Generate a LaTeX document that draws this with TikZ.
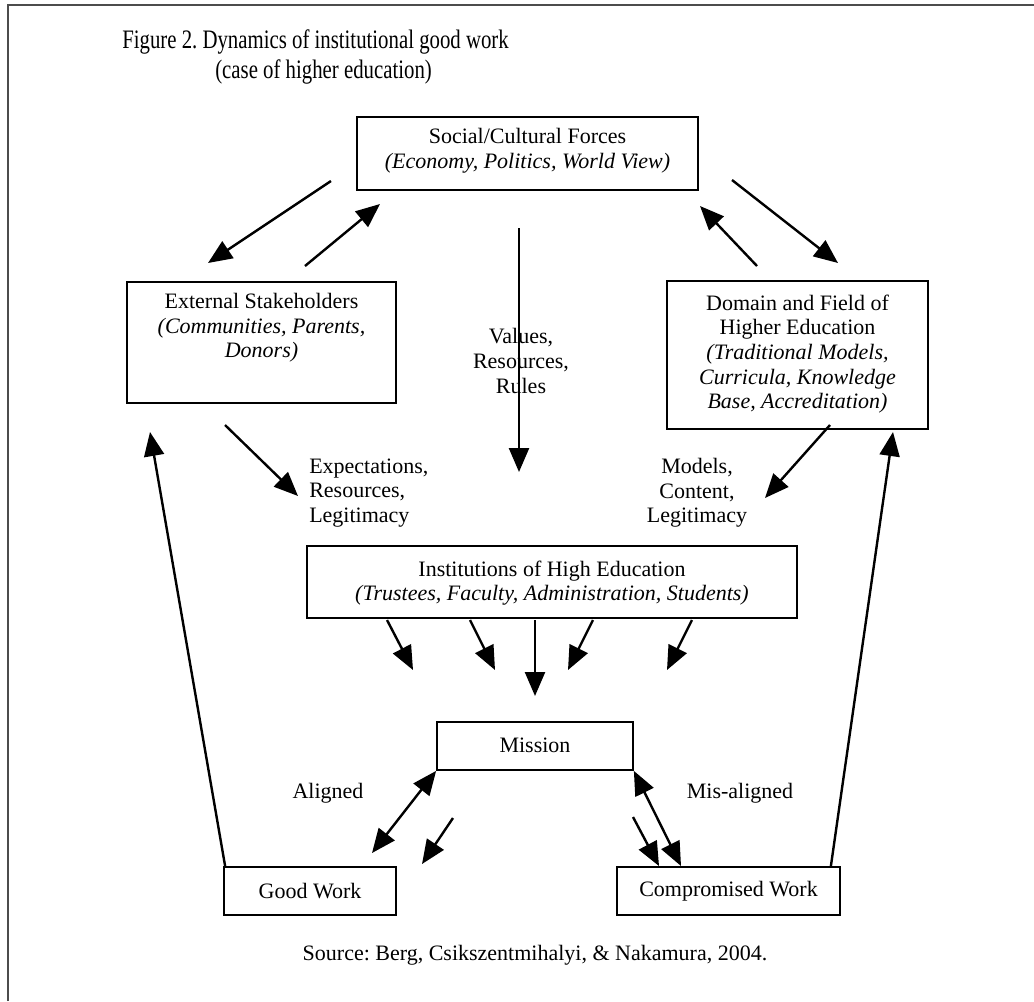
\documentclass[tikz,border=0pt]{standalone}
\usepackage{fontspec}
\setmainfont{Liberation Serif}
\newfontfamily\titlefont[FakeStretch=0.78]{Liberation Serif}
\usetikzlibrary{arrows.meta,calc}
\frenchspacing
\begin{document}
\begin{tikzpicture}[x=0.75pt,y=-0.75pt,
  box/.style={draw, line width=1.3pt, inner sep=0pt},
  txt/.style={inner sep=0pt, align=center, font=\fontsize{16.5}{18.5}\selectfont},
  arr/.style={line width=1.8pt, -{Triangle[length=18pt,width=15pt]}},
  darr/.style={line width=1.8pt, {Triangle[length=18pt,width=15pt]}-{Triangle[length=18pt,width=15pt]}},
  frame/.style={draw=black!70, line width=2.2pt}]
\useasboundingbox (0,0) rectangle (1034,1001);
% frame
\draw[frame] (8,1001) -- (8,5) -- (1034,5);
% title
\node[inner sep=0pt, anchor=west, font=\titlefont\fontsize{20}{22}\selectfont\frenchspacing] (title1) at (122,42) {Figure 2. Dynamics of institutional good work};
\node[inner sep=0pt, anchor=west, font=\titlefont\fontsize{20}{22}\selectfont] (title2) at (215,72) {(case of higher education)};
% boxes
\node[box, minimum width=341*0.75pt, minimum height=73*0.75pt] (soc) at (527.5,153.5) {};
\node[box, minimum width=269*0.75pt, minimum height=121*0.75pt] (ext) at (261.5,342.5) {};
\node[box, minimum width=261*0.75pt, minimum height=148*0.75pt] (dom) at (797.5,355) {};
\node[box, minimum width=490*0.75pt, minimum height=72*0.75pt] (inst) at (552,582) {};
\node[box, minimum width=196*0.75pt, minimum height=48*0.75pt] (mis) at (535,746) {};
\node[box, minimum width=172*0.75pt, minimum height=48*0.75pt] (good) at (310,891) {};
\node[box, minimum width=223*0.75pt, minimum height=48*0.75pt] (comp) at (728.5,891) {};
% box texts
\node[txt] (soct) at (527.5,151) {Social/Cultural Forces\\\textit{(Economy, Politics, World View)}};
\node[txt] (extt) at (261.5,328) {External Stakeholders\\\textit{(Communities, Parents,}\\\textit{Donors)}};
\node[txt] (domt) at (797.5,354) {Domain and Field of\\Higher Education\\\textit{(Traditional Models,}\\\textit{Curricula, Knowledge}\\\textit{Base, Accreditation)}};
\node[txt] (instt) at (552,583) {Institutions of High Education\\\textit{(Trustees, Faculty, Administration, Students)}};
\node[txt] (mist) at (535,745) {Mission};
\node[txt] (goodt) at (310,891) {Good Work};
\node[txt] (compt) at (728.5,891) {Compromised Work};
% coordinates for arrow ends
\coordinate (a1s) at (331,181); \coordinate (a1e) at (208,263);
\coordinate (a2s) at (305,266); \coordinate (a2e) at (380,204);
\coordinate (a3s) at (757,266); \coordinate (a3e) at (700,206);
\coordinate (a4s) at (732,180); \coordinate (a4e) at (838,263);
\coordinate (a5s) at (519,228); \coordinate (a5e) at (519,472);
\coordinate (a6s) at (225,425); \coordinate (a6e) at (298,496);
\coordinate (a7s) at (830,425); \coordinate (a7e) at (765,498);
\coordinate (b1s) at (387,620); \coordinate (b1e) at (413,670);
\coordinate (b2s) at (470,620); \coordinate (b2e) at (495,670);
\coordinate (b3s) at (535,620); \coordinate (b3e) at (535,696);
\coordinate (b4s) at (593,620); \coordinate (b4e) at (568,670);
\coordinate (b5s) at (692,620); \coordinate (b5e) at (667,670);
\coordinate (c2s) at (453,818); \coordinate (c2e) at (422,864);
\coordinate (c4s) at (633,817); \coordinate (c4e) at (659,866);
\coordinate (g1) at (372,853); \coordinate (cm1) at (681,866);
\coordinate (l1e) at (150,432); \coordinate (r1e) at (893,432);
% arrows
\draw[arr] (a1s) -- (a1e);
\draw[arr] (a2s) -- (a2e);
\draw[arr] (a3s) -- (a3e);
\draw[arr] (a4s) -- (a4e);
\draw[arr] (a5s) -- (a5e);
\draw[arr] (a6s) -- (a6e);
\draw[arr] (a7s) -- (a7e);
\draw[arr] (b1s) -- (b1e);
\draw[arr] (b2s) -- (b2e);
\draw[arr] (b3s) -- (b3e);
\draw[arr] (b4s) -- (b4e);
\draw[arr] (b5s) -- (b5e);
\draw[darr] (mis.south west) -- (g1);
\draw[arr] (c2s) -- (c2e);
\draw[darr] (mis.south east) -- (cm1);
\draw[arr] (c4s) -- (c4e);
\draw[arr] ($(good.north west)+(2,0)$) -- (l1e);
\draw[arr] ($(comp.north east)+(-10,0)$) -- (r1e);
% labels
\node[txt] (vals) at (521,361) {Values,\\Resources,\\Rules};
\node[txt, align=left, anchor=west] (expt) at (309,493) {Expectations,\\Resources,\\Legitimacy};
\node[txt] (modt) at (697,493) {Models,\\Content,\\Legitimacy};
\node[txt] (algn) at (328,793) {Aligned};
\node[txt] (misal) at (740,793) {Mis-aligned};
\node[txt] (src) at (535,955) {Source: Berg, Csikszentmihalyi, \& Nakamura, 2004.};
\end{tikzpicture}
\end{document}
